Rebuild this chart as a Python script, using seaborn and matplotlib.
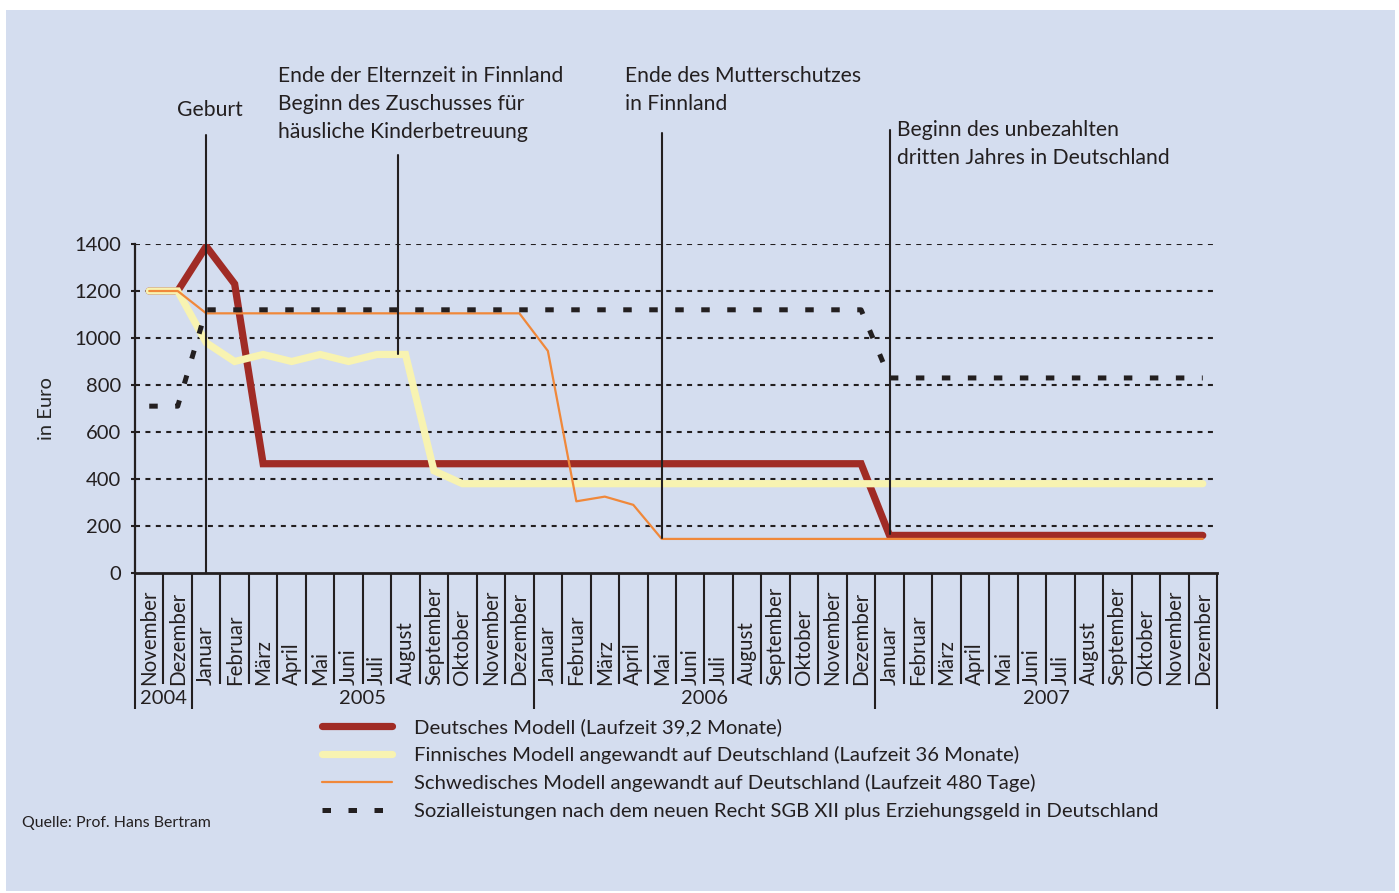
import matplotlib
matplotlib.use("Agg")
import matplotlib.pyplot as plt
import matplotlib.transforms as mtransforms
from matplotlib.patches import Rectangle
import numpy as np
import pandas as pd
import seaborn as sns

# ---- Daten ----
month_names = ["Januar", "Februar", "März", "April", "Mai", "Juni", "Juli",
               "August", "September", "Oktober", "November", "Dezember"]
month_labels = month_names[10:] + month_names * 3      # Nov 2004 .. Dez 2007
years = ["2004", "2005", "2006", "2007"]

deutsch = [1200, 1200, 1390, 1230, 465, 465, 465, 465, 465, 465, 465, 465, 465,
           465, 465, 465, 465, 465, 465, 465, 465, 465, 465, 465, 465, 465,
           160, 160, 160, 160, 160, 160, 160, 160, 160, 160, 160, 160]
finnisch = [1200, 1200, 980, 900, 930, 900, 930, 900, 930, 930, 435, 380, 380,
            380, 380, 380, 380, 380, 380, 380, 380, 380, 380, 380, 380, 380,
            380, 380, 380, 380, 380, 380, 380, 380, 380, 380, 380, 380]
schwedisch = [1200, 1200, 1105, 1105, 1105, 1105, 1105, 1105, 1105, 1105, 1105,
              1105, 1105, 1105, 945, 305, 325, 290, 145, 145, 145, 145, 145,
              145, 145, 145, 145, 145, 145, 145, 145, 145, 145, 145, 145, 145,
              145, 145]
sozial = [710, 710, 1120, 1120, 1120, 1120, 1120, 1120, 1120, 1120, 1120, 1120,
          1120, 1120, 1120, 1120, 1120, 1120, 1120, 1120, 1120, 1120, 1120, 1120,
          1120, 1120, 830, 830, 830, 830, 830, 830, 830, 830, 830, 830, 830, 830]

series_labels = ["Deutsches Modell (Laufzeit 39,2 Monate)",
                 "Finnisches Modell angewandt auf Deutschland (Laufzeit 36 Monate)",
                 "Schwedisches Modell angewandt auf Deutschland (Laufzeit 480 Tage)",
                 "Sozialleistungen nach dem neuen Recht SGB XII plus Erziehungsgeld in Deutschland"]

event_texts = ["Geburt",
               "Ende der Elternzeit in Finnland\nBeginn des Zuschusses für\nhäusliche Kinderbetreuung",
               "Ende des Mutterschutzes\nin Finnland",
               "Beginn des unbezahlten\ndritten Jahres in Deutschland"]
event_months = [2, 8.75, 18, 26]
event_values = [0, 930, 150, 165]

df = pd.DataFrame({"monat": np.arange(len(month_labels)),
                   "deutsch": deutsch, "finnisch": finnisch,
                   "schwedisch": schwedisch, "sozial": sozial})

# ---- Layout ----
W, H = 1399, 893
BG = "#D4DDEF"
INK = "#231F20"
AX_L, AX_R, AX_B, AX_T = 135, 1217, 573, 244

sns.set_style("white")
plt.rcParams["font.family"] = ["Lato", "DejaVu Sans"]
plt.rcParams["text.color"] = INK


def fx(px):
    return px / W


def fy(py):
    return 1 - py / H


def val_of(py):
    # Pixelhoehe -> Euro-Wert
    return (AX_B - py) / (AX_B - AX_T) * 1400


fig = plt.figure(figsize=(W / 100, H / 100), dpi=100, facecolor="white")
fig.patches.append(Rectangle((fx(6), fy(891)), fx(1395) - fx(6), fy(10) - fy(891),
                             transform=fig.transFigure, facecolor=BG,
                             edgecolor="none", zorder=-10))
ax = fig.add_axes([fx(AX_L), fy(AX_B), fx(AX_R) - fx(AX_L), fy(AX_T) - fy(AX_B)])
ax.set_facecolor("none")

# Gitter
for v in range(200, 1401, 200):
    ax.axhline(v, color=INK, lw=1.5, ls=(0, (2.4, 2.6)), zorder=1)

sns.lineplot(data=df, x="monat", y="deutsch", ax=ax, color="#A02B25", lw=5.2,
             label=series_labels[0], zorder=2, solid_joinstyle="miter")
sns.lineplot(data=df, x="monat", y="finnisch", ax=ax, color="#F8F3B1", lw=5.2,
             label=series_labels[1], zorder=3, solid_joinstyle="miter")
sns.lineplot(data=df, x="monat", y="schwedisch", ax=ax, color="#F0883A", lw=1.6,
             label=series_labels[2], zorder=4)
sns.lineplot(data=df, x="monat", y="sozial", ax=ax, color=INK, lw=3.6,
             linestyle=(0, (1.7, 3.5)), label=series_labels[3], zorder=5)

ax.set_xlim(-0.5, len(month_labels) - 0.5)
ax.set_ylim(0, 1400)
ax.set_xlabel("")
ax.set_ylabel("in Euro", fontsize=14.5, labelpad=14)

for s in ["top", "right"]:
    ax.spines[s].set_visible(False)
ax.spines["left"].set_linewidth(1.6)
ax.spines["bottom"].set_linewidth(2.0)
ax.spines["left"].set_color(INK)
ax.spines["bottom"].set_color(INK)

ax.set_yticks(range(0, 1401, 200))
ax.tick_params(axis="y", length=3, width=1.5, color=INK, pad=7, labelsize=14.5,
               labelcolor=INK, left=True)

# Monatsgrenzen und Jahresgrenzen als Ticks
year_starts = [0, 2, 14, 26, 38]
bounds = np.arange(len(month_labels) + 1) - 0.5
year_bounds = [bounds[i] for i in year_starts]
month_bounds = [b for b in bounds if b not in year_bounds]
ax.set_xticks(year_bounds)
ax.set_xticks(month_bounds, minor=True)
ax.set_xticklabels([])
ax.tick_params(axis="x", which="major", length=98, width=1.5, color=INK, bottom=True)
ax.tick_params(axis="x", which="minor", length=80, width=1.5, color=INK, bottom=True)

trans = mtransforms.blended_transform_factory(ax.transData, ax.transAxes)
lab_y = (AX_B - 685) / (AX_B - AX_T)
for i, m in enumerate(month_labels):
    ax.text(i, lab_y, m, transform=trans, rotation=90, ha="center", va="bottom",
            fontsize=14.8, color=INK)
year_y = (AX_B - 698) / (AX_B - AX_T)
for k, yr in enumerate(years):
    mid = (year_starts[k] + year_starts[k + 1] - 1) / 2
    ax.text(mid, year_y, yr, transform=trans, ha="center", va="center",
            fontsize=14.5, color=INK)

# Ereignislinien
event_tops = [135, 155, 133, 130]
for xm, vb, top in zip(event_months, event_values, event_tops):
    ax.plot([xm, xm], [vb, val_of(top)], color=INK, lw=1.5, clip_on=False, zorder=6)

event_pos = [(177, 110), (278, 104), (625, 90), (897, 144)]
for txt, (px, py) in zip(event_texts, event_pos):
    fig.text(fx(px), fy(py), txt, ha="left", va="center", fontsize=15.2,
             linespacing=1.52, color=INK)

h, l = ax.get_legend_handles_labels()
leg = ax.legend(h, l, loc="upper left",
                bbox_to_anchor=(fx(322), fy(718)), bbox_transform=fig.transFigure,
                frameon=False, fontsize=14.6, handlelength=3.45, handletextpad=1.1,
                labelspacing=0.5, borderpad=0, borderaxespad=0)
for t in leg.get_texts():
    t.set_color(INK)

fig.text(fx(22), fy(823), "Quelle: Prof. Hans Bertram", fontsize=11.4,
         ha="left", va="center", color=INK)

fig.savefig("out.png", dpi=100, facecolor="white")
